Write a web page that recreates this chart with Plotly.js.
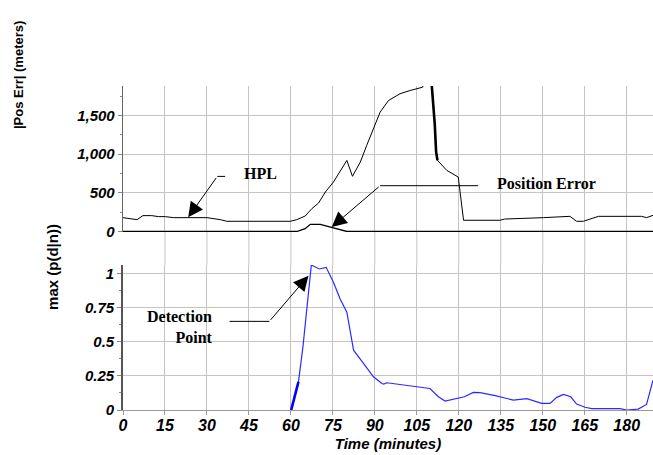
<!DOCTYPE html>
<html><head><meta charset="utf-8">
<script src="https://cdn.plot.ly/plotly-3.0.1.min.js"></script>
<style>html,body{margin:0;padding:0;background:#fff}</style>
</head><body><div id="chart" style="width:653px;height:455px"></div>
<script>
// ---- data ----
var xTicks = [0, 15, 30, 45, 60, 75, 90, 105, 120, 135, 150, 165, 180];
var topTicks = [0, 500, 1000, 1500];
var bottomTicks = [0, 0.25, 0.5, 0.75, 1];
var bottomTickText = ['0', '0.25', '0.5', '0.75', '1'];

// HPL (meters)
var hplX = [0, 5, 7.1, 10.3, 12.7, 15.1, 18.1, 30, 34.8, 37.1, 59.8, 62.1, 65.1, 67.5, 69.9, 72.3, 75.2, 80, 82, 84.8, 87.1, 89.5, 91.9, 94.9, 99, 102.6, 107.1, 108.5, 110.2, 110.9, 111.4, 111.9, 112.4, 115.7, 119.8, 121.7, 134.7, 136.4, 150.2, 159.7, 162.1, 164.5, 169.9, 185.3, 187.1, 189.4];
var hplY = [179, 153, 205, 205, 192, 192, 179, 179, 153, 132, 132, 153, 200, 296, 368, 510, 639, 919, 713, 897, 1113, 1328, 1543, 1693, 1780, 1822, 1865, 2100, 1950, 1672, 1393, 1026, 919, 790, 704, 145, 145, 161, 179, 196, 132, 132, 196, 196, 179, 209];
// Position error (meters)
var peX = [0, 62.1, 65.1, 66.9, 70.5, 74.1, 77.7, 80, 189.4];
var peY = [0, 0, 37, 93, 93, 58, 15, 0, 0];
// max p(d|n)
var detX = [60.1, 60.8, 61.5, 62.1, 62.7, 64.3, 65.7, 67.3, 70.1, 72.6, 75.2, 77.6, 80, 82.4, 86, 89.5, 92.5, 93.2, 94.3, 99.6, 105, 109.7, 112.7, 115.1, 122, 125.2, 127.6, 133, 139.5, 144.3, 149.6, 152.6, 155, 157.4, 160, 162.1, 165.1, 167.5, 177.6, 180, 184.1, 187.1, 189.4];
var detY = [0, 0.06, 0.12, 0.16, 0.207, 0.463, 0.755, 1.065, 1.036, 1.048, 0.938, 0.816, 0.719, 0.439, 0.341, 0.244, 0.195, 0.19, 0.2, 0.188, 0.171, 0.158, 0.097, 0.066, 0.097, 0.129, 0.127, 0.105, 0.073, 0.083, 0.049, 0.049, 0.093, 0.114, 0.097, 0.044, 0.02, 0.01, 0.01, 0, 0.007, 0.041, 0.219];

// ---- styling ----
var sansBI = {family: 'Liberation Sans, Arial, sans-serif', size: 15, color: '#000', weight: 'bold', style: 'italic'};
var serifB = {family: 'Liberation Serif, Times New Roman, serif', size: 16, color: '#000', weight: 'bold'};
var grid = '#c4c4c4';
var topDom = [0.549, 1], botDom = [0, 0.4475];

var traces = [
  {x: hplX, y: hplY, xaxis: 'x2', yaxis: 'y', mode: 'lines', line: {color: '#000', width: 1}, hoverinfo: 'skip'},
  {x: hplX.slice(28, 33), y: hplY.slice(28, 33), xaxis: 'x2', yaxis: 'y', mode: 'lines', line: {color: '#000', width: 2.6}, hoverinfo: 'skip'},
  {x: peX, y: peY, xaxis: 'x2', yaxis: 'y', mode: 'lines', line: {color: '#000', width: 1.3}, hoverinfo: 'skip'},
  {x: detX, y: detY, xaxis: 'x', yaxis: 'y2', mode: 'lines', line: {color: '#2a2aff', width: 1.2}, hoverinfo: 'skip'},
  {x: detX.slice(0, 5), y: detY.slice(0, 5), xaxis: 'x', yaxis: 'y2', mode: 'lines', line: {color: '#0000ff', width: 2.6}, hoverinfo: 'skip'}
];

var shapes = xTicks.filter(function (t) { return t > 0; }).map(function (t) {
  return {type: 'line', xref: 'x', yref: 'paper', x0: t, x1: t, y0: botDom[1], y1: topDom[0], line: {color: grid, width: 1}, layer: 'below'};
});
// connector segments of the callouts
shapes.push({type: 'line', xref: 'x2', yref: 'y', x0: 33.7, x1: 36.5, y0: 712, y1: 712, line: {color: '#000', width: 1}});
shapes.push({type: 'line', xref: 'x2', yref: 'y', x0: 91.9, x1: 126.9, y0: 592, y1: 592, line: {color: '#000', width: 1}});
shapes.push({type: 'line', xref: 'x', yref: 'y2', x0: 38.1, x1: 52.3, y0: 0.651, y1: 0.651, line: {color: '#000', width: 1}});

var arrowStyle = {text: '', showarrow: true, arrowhead: 2, arrowsize: 3, arrowwidth: 1, arrowcolor: '#000'};
function arrow(o) { return Object.assign({}, arrowStyle, o); }

var annotations = [
  {xref: 'x2', yref: 'y', x: 49, y: 751, text: 'HPL', showarrow: false, font: serifB},
  arrow({xref: 'x2', yref: 'y', x: 23.3, y: 183, axref: 'x2', ayref: 'y', ax: 33.7, ay: 712}),
  {xref: 'x2', yref: 'y', x: 151.2, y: 622, text: 'Position Error', showarrow: false, font: serifB},
  arrow({xref: 'x2', yref: 'y', x: 74.6, y: 58, axref: 'x2', ayref: 'y', ax: 91.9, ay: 592}),
  {xref: 'x', yref: 'y2', x: 32.9, y: 0.607, xanchor: 'right', align: 'right', text: 'Detection<br>Point', showarrow: false, font: serifB},
  arrow({xref: 'x', yref: 'y2', x: 66.3, y: 0.987, axref: 'x', ayref: 'y2', ax: 52.3, ay: 0.651}),
  {xref: 'paper', yref: 'paper', x: -0.196, y: 1.034, xanchor: 'center', yanchor: 'middle', text: '|Pos Err| (meters)', textangle: -90, showarrow: false,
   font: {family: 'Liberation Sans, Arial, sans-serif', size: 13, color: '#000', weight: 'bold'}},
  {xref: 'paper', yref: 'paper', x: -0.133, y: 0.44, xanchor: 'center', yanchor: 'middle', text: 'max (p(d|n))', textangle: -90, showarrow: false,
   font: {family: 'Liberation Sans, Arial, sans-serif', size: 15, color: '#000', weight: 'bold'}}
];

var layout = {
  width: 653, height: 455,
  margin: {l: 123, r: 0, t: 86, b: 45},
  paper_bgcolor: '#fff', plot_bgcolor: '#fff',
  showlegend: false,
  xaxis: {
    anchor: 'y2', range: [0, 189.4], tickmode: 'array', tickvals: xTicks,
    showgrid: true, gridcolor: grid, gridwidth: 1, zeroline: false,
    showline: true, linecolor: '#999', linewidth: 1,
    ticks: 'outside', ticklen: 4, tickcolor: '#999', ticklabelstandoff: -3,
    tickfont: {family: sansBI.family, size: 16, color: '#000', weight: 'bold', style: 'italic'},
    title: {text: 'Time (minutes)', font: {family: sansBI.family, size: 15, color: '#000', weight: 'bold', style: 'italic'}, standoff: 5}
  },
  xaxis2: {
    anchor: 'y', matches: 'x', range: [0, 189.4], tickmode: 'array', tickvals: xTicks,
    showgrid: true, gridcolor: grid, gridwidth: 1, zeroline: false,
    showline: false, showticklabels: false, ticks: ''
  },
  yaxis: {
    domain: topDom, anchor: 'x2', range: [-8, 1880], tickmode: 'array', tickvals: topTicks, tickformat: ',',
    showgrid: true, gridcolor: grid, gridwidth: 1, zeroline: false,
    showline: true, linecolor: '#666', linewidth: 1.3,
    ticks: 'outside', ticklen: 4, tickcolor: '#888',
    minor: {dtick: 250, tick0: 0, ticks: 'outside', ticklen: 2, tickcolor: '#888', showgrid: false},
    tickfont: sansBI
  },
  yaxis2: {
    domain: botDom, anchor: 'x', range: [0, 1.065], tickmode: 'array', tickvals: bottomTicks, ticktext: bottomTickText,
    showgrid: true, gridcolor: grid, gridwidth: 1, zeroline: false,
    showline: true, linecolor: '#555', linewidth: 1.8,
    ticks: 'outside', ticklen: 4, tickcolor: '#888',
    minor: {dtick: 0.125, tick0: 0, ticks: 'outside', ticklen: 2, tickcolor: '#888', showgrid: false},
    tickfont: sansBI
  },
  shapes: shapes,
  annotations: annotations
};

Plotly.newPlot('chart', traces, layout, {staticPlot: true, displayModeBar: false});
</script>
</body></html>
